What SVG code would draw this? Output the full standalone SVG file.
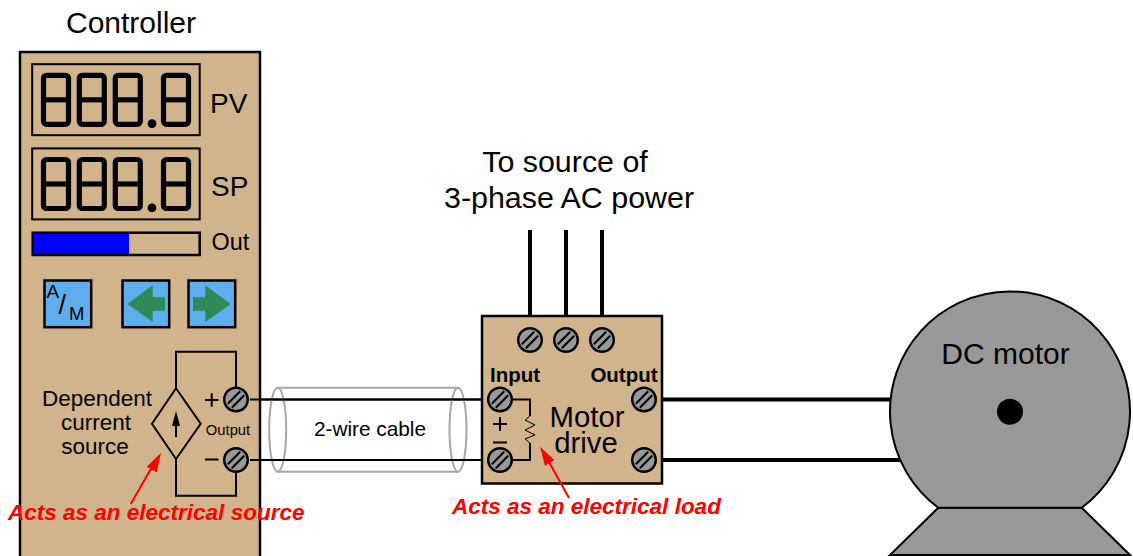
<svg xmlns="http://www.w3.org/2000/svg" xmlns:xlink="http://www.w3.org/1999/xlink" width="1133" height="556" viewBox="0 0 1133 556">
<style>
text{font-family:"Liberation Sans",Arial,sans-serif;fill:#000}
.body{fill:#d2b48c;stroke:#000;stroke-width:2.5}
.frame{fill:none;stroke:#000;stroke-width:2}
.seg{fill:none;stroke:#000;stroke-width:5.2;stroke-linejoin:round}
.btn{fill:#5eaeee;stroke:#000;stroke-width:2.5}
.arr{fill:#2e8b57}
.w{fill:none;stroke:#000;stroke-width:2}
.W{fill:none;stroke:#000;stroke-width:4}
.cab{fill:none;stroke:#a6a6a6;stroke-width:2}
.red{fill:#f00;font-weight:bold;font-style:italic;font-size:22.5px}
.rl{fill:none;stroke:#f00;stroke-width:2}
.rh{fill:#f00}
.b{font-weight:bold;font-size:20.5px}
.mid{text-anchor:middle}
</style>
<defs>
<g id="screw"><circle r="11.8" fill="#999" stroke="#000" stroke-width="2.4"/><path d="M-8.2 4.2L4.2-8.2M-4.2 8.2L8.2-4.2" stroke="#000" stroke-width="2.2" fill="none"/></g>
<g id="digit"><rect x="0" y="0" width="25" height="49" rx="3" class="seg"/><path d="M0 24.5H25" class="seg"/></g>
<g id="readout"><use xlink:href="#digit" x="43.5" y="75.3"/><use xlink:href="#digit" x="79.3" y="75.3"/><use xlink:href="#digit" x="115.3" y="75.3"/><use xlink:href="#digit" x="163.5" y="75.3"/><circle cx="152" cy="123.7" r="4.4"/></g>
</defs>
<g id="connectors">
<path class="W" d="M530 230V335M566 230V335M602 230V335"/>
<path class="W" d="M644 399.5H892M644 460H905"/>
<path class="w" d="M236 399.5H500M236 460H500"/>
</g>
<g id="controller">
<rect class="body" x="20" y="52" width="240" height="506"/>
<rect class="frame" x="32.2" y="64.2" width="167.5" height="71"/>
<use xlink:href="#readout"/>
<rect class="frame" x="32.2" y="148.4" width="167.5" height="71"/>
<use xlink:href="#readout" y="84.2"/>
<rect x="32" y="232.7" width="97" height="22.3" fill="#00f"/>
<rect x="32.7" y="232.7" width="167" height="22.3" fill="none" stroke="#000" stroke-width="2.5"/>
<text x="210" y="113" font-size="28">PV</text>
<text x="211" y="196" font-size="28">SP</text>
<text x="211.5" y="250" font-size="23.4">Out</text>
<text x="131" y="33" font-size="30" class="mid">Controller</text>
<rect class="btn" x="44.5" y="280.5" width="46.7" height="46.7"/>
<text x="46.5" y="298" font-size="19">A</text>
<text x="58.5" y="314" font-size="27">/</text>
<text x="69" y="320" font-size="18.5">M</text>
<rect class="btn" x="122.5" y="280.5" width="46.7" height="46.7"/>
<polygon class="arr" points="127.3,304 152.7,285.3 152.7,297.3 165,297.3 165,310.7 152.7,310.7 152.7,322"/>
<rect class="btn" x="188.5" y="280.5" width="46.7" height="46.7"/>
<polygon class="arr" points="230.7,304 205.3,285.3 205.3,297.3 193,297.3 193,310.7 205.3,310.7 205.3,322"/>
<path class="w" d="M236 399.5V351.7H176V388.3M176 459V495.7H236V460"/>
<polygon points="176,388.3 200.7,423.7 176,459 152,423.7" class="w"/>
<path class="w" d="M176 437V420"/>
<polygon points="176,411 172,426 180,426"/>
<text x="97" y="406" font-size="22.5" class="mid">Dependent</text>
<text x="96" y="430" font-size="22.5" class="mid">current</text>
<text x="95" y="454" font-size="22.5" class="mid">source</text>
<path class="w" d="M205 400H218.5M211.7 393.3V406.7M205 459.5H218.5"/>
<text x="228" y="435" font-size="14.8" class="mid">Output</text>
<use xlink:href="#screw" x="236" y="399.5"/>
<use xlink:href="#screw" x="236" y="460"/>
</g>
<g id="cable">
<ellipse class="cab" cx="277.7" cy="429.7" rx="8.5" ry="42"/>
<ellipse class="cab" cx="458" cy="429.7" rx="8.5" ry="42"/>
<path class="cab" d="M277.7 387.7H458M277.7 471.7H458"/>
<path class="w" d="M250 399.5H490M250 460H490"/>
<text x="370" y="436" font-size="20.8" class="mid">2-wire cable</text>
</g>
<g id="motor-drive">
<rect class="body" x="482" y="316" width="180" height="167.5"/>
<path class="w" d="M500 399.5H530V416M530 443V460H500"/>
<path d="M530 416L525 420L535 425L525 430L535 435L525 439L530 443" fill="none" stroke="#000" stroke-width="1"/>
<use xlink:href="#screw" x="530" y="340"/>
<use xlink:href="#screw" x="566" y="340"/>
<use xlink:href="#screw" x="602" y="340"/>
<use xlink:href="#screw" x="500" y="399.5"/>
<use xlink:href="#screw" x="500" y="460"/>
<use xlink:href="#screw" x="644" y="399.5"/>
<use xlink:href="#screw" x="644" y="460"/>
<text x="515" y="382" class="b mid">Input</text>
<text x="624" y="382" class="b mid">Output</text>
<text x="587" y="427" font-size="29.3" class="mid">Motor</text>
<text x="586" y="453" font-size="29.3" class="mid">drive</text>
<path class="w" d="M493 424H507M500 417V431M493 442.5H507"/>
</g>
<g id="dc-motor">
<polygon points="938.3,507.7 1081.7,507.7 1130,555 890,555" fill="#999" stroke="#000" stroke-width="2"/>
<path d="M938.3 507.7A120 120 0 1 1 1081.7 507.7Z" fill="#999" stroke="#000" stroke-width="2"/>
<circle cx="1010" cy="411.7" r="13"/>
<text x="1005.5" y="364" font-size="30" class="mid">DC motor</text>
</g>
<g id="labels">
<text x="565" y="172" font-size="30.4" class="mid">To source of</text>
<text x="569" y="208" font-size="30.4" class="mid">3-phase AC power</text>
<text x="8" y="520" class="red">Acts as an electrical source</text>
<text x="452" y="514" class="red">Acts as an electrical load</text>
<path class="rl" d="M130.7 504L152 467"/>
<polygon class="rh" points="161,452.7 156.7,472.3 146.7,466.7"/>
<path class="rl" d="M569 498L549 462"/>
<polygon class="rh" points="540,446.7 554.3,460 545,465.7"/>
</g>
</svg>
